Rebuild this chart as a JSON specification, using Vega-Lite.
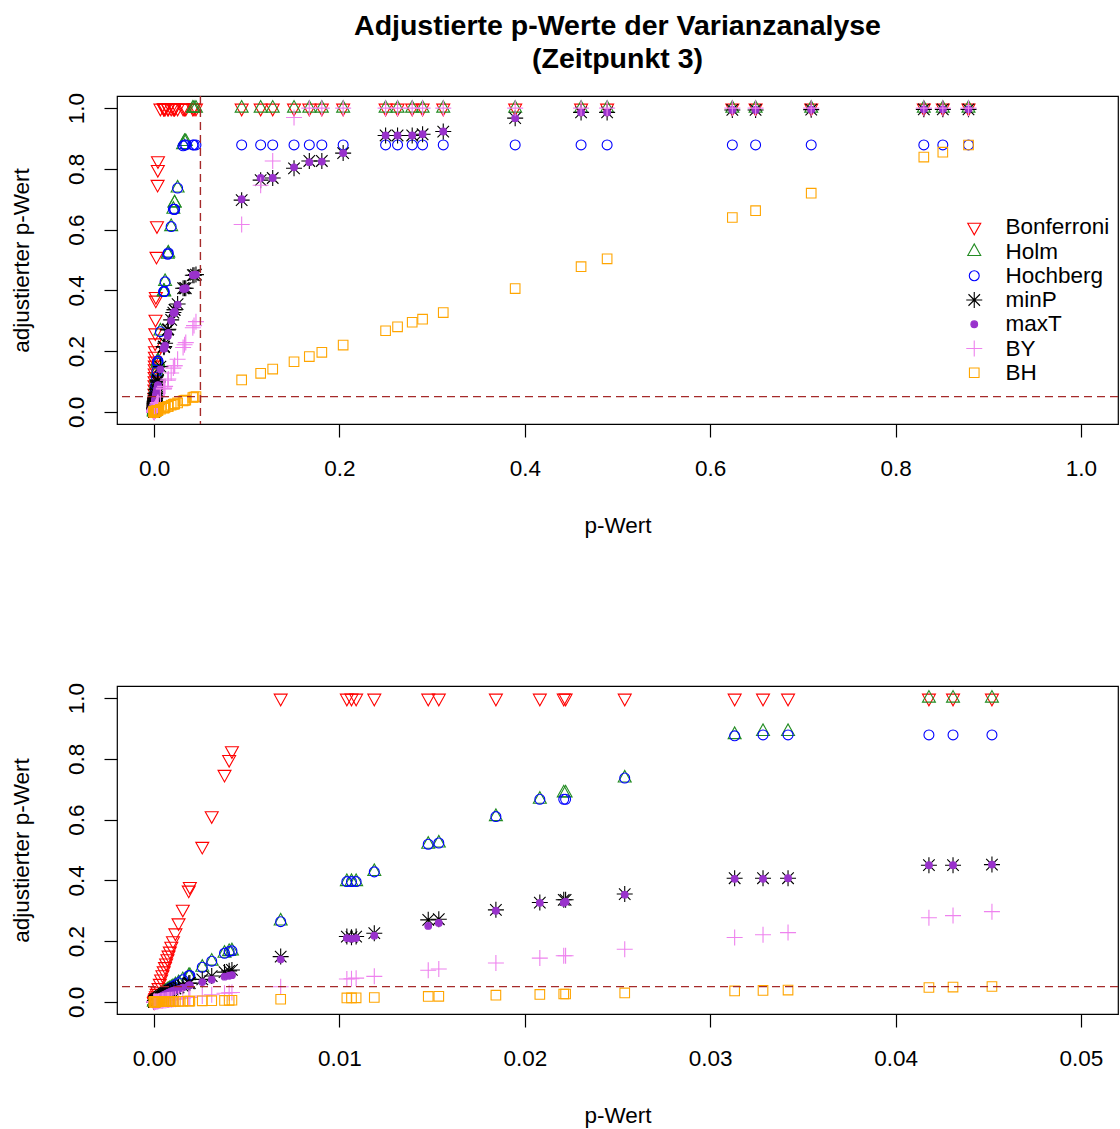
{
 "$schema": "https://vega.github.io/schema/vega-lite/v6.json",
 "autosize": {"type": "pad"},
 "padding": {"left": 9, "top": 11, "right": 2, "bottom": 5},
 "background": "white",
 "config": {
  "font": "Liberation Sans",
  "view": {"stroke": "#000", "strokeWidth": 1.2},
  "axis": {"domain": false, "grid": false, "tickColor": "#000", "tickSize": 13, "tickWidth": 1.2, "labelFontSize": 22.5, "labelColor": "#000", "titleFontSize": 22.5, "titleFontWeight": "normal", "titleColor": "#000", "labelFont": "Liberation Sans", "titleFont": "Liberation Sans", "labelFlush": false, "labelOverlap": false, "labelBound": false},
  "axisX": {"labelPadding": 38, "labelBaseline": "alphabetic", "titleY": 108, "titleBaseline": "alphabetic"},
  "axisY": {"labelAngle": 270, "labelAlign": "center", "labelBaseline": "alphabetic", "labelPadding": 21, "titleX": -89, "titleBaseline": "alphabetic", "titleAngle": 270}
 },
 "datasets": {
  "ord": [{"method": "Bonferroni", "o": 1}, {"method": "Holm", "o": 2}, {"method": "Hochberg", "o": 3}, {"method": "minP", "o": 4}, {"method": "maxT", "o": 5}, {"method": "BY", "o": 6}, {"method": "BH", "o": 7}],
  "pv": [
   {"p": 0.8787, "Bonferroni": 1, "Holm": 1, "Hochberg": 0.879, "minP": 0.996, "maxT": 0.996, "BY": 1, "BH": 0.8787},
   {"p": 0.851, "Bonferroni": 1, "Holm": 1, "Hochberg": 0.879, "minP": 0.996, "maxT": 0.996, "BY": 1, "BH": 0.855},
   {"p": 0.8305, "Bonferroni": 1, "Holm": 1, "Hochberg": 0.879, "minP": 0.996, "maxT": 0.996, "BY": 1, "BH": 0.839},
   {"p": 0.709, "Bonferroni": 1, "Holm": 1, "Hochberg": 0.879, "minP": 0.995, "maxT": 0.995, "BY": 1, "BH": 0.72},
   {"p": 0.649, "Bonferroni": 1, "Holm": 1, "Hochberg": 0.879, "minP": 0.994, "maxT": 0.994, "BY": 1, "BH": 0.6625},
   {"p": 0.6239, "Bonferroni": 1, "Holm": 1, "Hochberg": 0.879, "minP": 0.994, "maxT": 0.994, "BY": 1, "BH": 0.64},
   {"p": 0.4888, "Bonferroni": 1, "Holm": 1, "Hochberg": 0.879, "minP": 0.986, "maxT": 0.986, "BY": 1, "BH": 0.504},
   {"p": 0.4607, "Bonferroni": 1, "Holm": 1, "Hochberg": 0.879, "minP": 0.986, "maxT": 0.986, "BY": 1, "BH": 0.478},
   {"p": 0.3896, "Bonferroni": 1, "Holm": 1, "Hochberg": 0.879, "minP": 0.967, "maxT": 0.967, "BY": 1, "BH": 0.406},
   {"p": 0.312, "Bonferroni": 1, "Holm": 1, "Hochberg": 0.879, "minP": 0.923, "maxT": 0.923, "BY": 1, "BH": 0.327},
   {"p": 0.2897, "Bonferroni": 1, "Holm": 1, "Hochberg": 0.879, "minP": 0.914, "maxT": 0.914, "BY": 1, "BH": 0.305},
   {"p": 0.2785, "Bonferroni": 1, "Holm": 1, "Hochberg": 0.879, "minP": 0.91, "maxT": 0.91, "BY": 1, "BH": 0.295},
   {"p": 0.2627, "Bonferroni": 1, "Holm": 1, "Hochberg": 0.879, "minP": 0.91, "maxT": 0.91, "BY": 1, "BH": 0.28},
   {"p": 0.2498, "Bonferroni": 1, "Holm": 1, "Hochberg": 0.879, "minP": 0.91, "maxT": 0.91, "BY": 1, "BH": 0.267},
   {"p": 0.204, "Bonferroni": 1, "Holm": 1, "Hochberg": 0.879, "minP": 0.852, "maxT": 0.852, "BY": 1, "BH": 0.22},
   {"p": 0.181, "Bonferroni": 1, "Holm": 1, "Hochberg": 0.879, "minP": 0.826, "maxT": 0.824, "BY": 1, "BH": 0.196},
   {"p": 0.1675, "Bonferroni": 1, "Holm": 1, "Hochberg": 0.879, "minP": 0.826, "maxT": 0.822, "BY": 1, "BH": 0.182},
   {"p": 0.151, "Bonferroni": 1, "Holm": 1, "Hochberg": 0.879, "minP": 0.802, "maxT": 0.805, "BY": 0.969, "BH": 0.165},
   {"p": 0.128, "Bonferroni": 1, "Holm": 1, "Hochberg": 0.879, "minP": 0.77, "maxT": 0.77, "BY": 0.826, "BH": 0.141},
   {"p": 0.115, "Bonferroni": 1, "Holm": 1, "Hochberg": 0.879, "minP": 0.763, "maxT": 0.77, "BY": 0.746, "BH": 0.127},
   {"p": 0.0945, "Bonferroni": 1, "Holm": 1, "Hochberg": 0.879, "minP": 0.697, "maxT": 0.7, "BY": 0.617, "BH": 0.105},
   {"p": 0.0452, "Bonferroni": 1, "Holm": 1, "Hochberg": 0.879, "minP": 0.452, "maxT": 0.452, "BY": 0.297, "BH": 0.0506},
   {"p": 0.0431, "Bonferroni": 1, "Holm": 1, "Hochberg": 0.879, "minP": 0.45, "maxT": 0.45, "BY": 0.284, "BH": 0.0485},
   {"p": 0.0418, "Bonferroni": 1, "Holm": 1, "Hochberg": 0.879, "minP": 0.45, "maxT": 0.45, "BY": 0.277, "BH": 0.0473},
   {"p": 0.0342, "Bonferroni": 1, "Holm": 0.89, "Hochberg": 0.879, "minP": 0.407, "maxT": 0.407, "BY": 0.228, "BH": 0.0389},
   {"p": 0.03285, "Bonferroni": 1, "Holm": 0.89, "Hochberg": 0.879, "minP": 0.407, "maxT": 0.405, "BY": 0.221, "BH": 0.0376},
   {"p": 0.03132, "Bonferroni": 1, "Holm": 0.88, "Hochberg": 0.876, "minP": 0.407, "maxT": 0.405, "BY": 0.212, "BH": 0.0361},
   {"p": 0.02539, "Bonferroni": 1, "Holm": 0.737, "Hochberg": 0.737, "minP": 0.355, "maxT": 0.353, "BY": 0.173, "BH": 0.0294},
   {"p": 0.0222, "Bonferroni": 1, "Holm": 0.688, "Hochberg": 0.667, "minP": 0.336, "maxT": 0.33, "BY": 0.152, "BH": 0.0259},
   {"p": 0.0221, "Bonferroni": 1, "Holm": 0.688, "Hochberg": 0.667, "minP": 0.336, "maxT": 0.326, "BY": 0.152, "BH": 0.0259},
   {"p": 0.02081, "Bonferroni": 1, "Holm": 0.667, "Hochberg": 0.667, "minP": 0.327, "maxT": 0.326, "BY": 0.144, "BH": 0.0246},
   {"p": 0.01844, "Bonferroni": 1, "Holm": 0.61, "Hochberg": 0.61, "minP": 0.303, "maxT": 0.3, "BY": 0.128, "BH": 0.0219},
   {"p": 0.01536, "Bonferroni": 1, "Holm": 0.523, "Hochberg": 0.523, "minP": 0.272, "maxT": 0.26, "BY": 0.108, "BH": 0.0183},
   {"p": 0.01479, "Bonferroni": 1, "Holm": 0.519, "Hochberg": 0.519, "minP": 0.27, "maxT": 0.25, "BY": 0.104, "BH": 0.0178},
   {"p": 0.01188, "Bonferroni": 1, "Holm": 0.429, "Hochberg": 0.428, "minP": 0.226, "maxT": 0.218, "BY": 0.084, "BH": 0.0144},
   {"p": 0.0109, "Bonferroni": 1, "Holm": 0.396, "Hochberg": 0.396, "minP": 0.215, "maxT": 0.21, "BY": 0.078, "BH": 0.0133},
   {"p": 0.01065, "Bonferroni": 1, "Holm": 0.396, "Hochberg": 0.396, "minP": 0.213, "maxT": 0.208, "BY": 0.076, "BH": 0.013},
   {"p": 0.0104, "Bonferroni": 1, "Holm": 0.396, "Hochberg": 0.396, "minP": 0.215, "maxT": 0.21, "BY": 0.075, "BH": 0.0128},
   {"p": 0.00683, "Bonferroni": 1, "Holm": 0.266, "Hochberg": 0.264, "minP": 0.149, "maxT": 0.14, "BY": 0.0496, "BH": 0.0085},
   {"p": 0.0042, "Bonferroni": 0.827, "Holm": 0.168, "Hochberg": 0.168, "minP": 0.105, "maxT": 0.088, "BY": 0.0307, "BH": 0.00524},
   {"p": 0.00405, "Bonferroni": 0.798, "Holm": 0.166, "Hochberg": 0.166, "minP": 0.102, "maxT": 0.086, "BY": 0.0298, "BH": 0.00508},
   {"p": 0.0038, "Bonferroni": 0.749, "Holm": 0.16, "Hochberg": 0.16, "minP": 0.098, "maxT": 0.083, "BY": 0.0281, "BH": 0.0048},
   {"p": 0.00311, "Bonferroni": 0.613, "Holm": 0.134, "Hochberg": 0.134, "minP": 0.085, "maxT": 0.073, "BY": 0.0232, "BH": 0.00395},
   {"p": 0.0026, "Bonferroni": 0.512, "Holm": 0.114, "Hochberg": 0.114, "minP": 0.074, "maxT": 0.065, "BY": 0.0195, "BH": 0.00333},
   {"p": 0.00193, "Bonferroni": 0.38, "Holm": 0.087, "Hochberg": 0.087, "minP": 0.062, "maxT": 0.055, "BY": 0.0146, "BH": 0.00249},
   {"p": 0.00187, "Bonferroni": 0.368, "Holm": 0.086, "Hochberg": 0.086, "minP": 0.061, "maxT": 0.054, "BY": 0.0142, "BH": 0.00242},
   {"p": 0.00155, "Bonferroni": 0.305, "Holm": 0.073, "Hochberg": 0.073, "minP": 0.053, "maxT": 0.047, "BY": 0.0119, "BH": 0.00202},
   {"p": 0.00132, "Bonferroni": 0.26, "Holm": 0.063, "Hochberg": 0.063, "minP": 0.048, "maxT": 0.042, "BY": 0.0102, "BH": 0.00173},
   {"p": 0.00115, "Bonferroni": 0.227, "Holm": 0.056, "Hochberg": 0.056, "minP": 0.044, "maxT": 0.039, "BY": 0.0089, "BH": 0.00152},
   {"p": 0.00102, "Bonferroni": 0.201, "Holm": 0.051, "Hochberg": 0.051, "minP": 0.04, "maxT": 0.036, "BY": 0.008, "BH": 0.00136},
   {"p": 0.00093, "Bonferroni": 0.183, "Holm": 0.047, "Hochberg": 0.047, "minP": 0.038, "maxT": 0.034, "BY": 0.0073, "BH": 0.00125},
   {"p": 0.00085, "Bonferroni": 0.167, "Holm": 0.044, "Hochberg": 0.044, "minP": 0.036, "maxT": 0.032, "BY": 0.0067, "BH": 0.00115},
   {"p": 0.00078, "Bonferroni": 0.154, "Holm": 0.041, "Hochberg": 0.041, "minP": 0.034, "maxT": 0.03, "BY": 0.0062, "BH": 0.00106},
   {"p": 0.00072, "Bonferroni": 0.142, "Holm": 0.039, "Hochberg": 0.039, "minP": 0.032, "maxT": 0.028, "BY": 0.0058, "BH": 0.00099},
   {"p": 0.00065, "Bonferroni": 0.128, "Holm": 0.036, "Hochberg": 0.036, "minP": 0.03, "maxT": 0.026, "BY": 0.0053, "BH": 0.0009},
   {"p": 0.00059, "Bonferroni": 0.116, "Holm": 0.033, "Hochberg": 0.033, "minP": 0.028, "maxT": 0.024, "BY": 0.0048, "BH": 0.00082},
   {"p": 0.00052, "Bonferroni": 0.102, "Holm": 0.03, "Hochberg": 0.03, "minP": 0.026, "maxT": 0.022, "BY": 0.0043, "BH": 0.00073},
   {"p": 0.00045, "Bonferroni": 0.089, "Holm": 0.026, "Hochberg": 0.026, "minP": 0.023, "maxT": 0.02, "BY": 0.0037, "BH": 0.00063},
   {"p": 0.00038, "Bonferroni": 0.075, "Holm": 0.022, "Hochberg": 0.022, "minP": 0.02, "maxT": 0.017, "BY": 0.0032, "BH": 0.00054},
   {"p": 0.00031, "Bonferroni": 0.061, "Holm": 0.019, "Hochberg": 0.019, "minP": 0.017, "maxT": 0.014, "BY": 0.0026, "BH": 0.00044},
   {"p": 0.00024, "Bonferroni": 0.047, "Holm": 0.015, "Hochberg": 0.015, "minP": 0.014, "maxT": 0.012, "BY": 0.002, "BH": 0.00035},
   {"p": 0.00018, "Bonferroni": 0.035, "Holm": 0.011, "Hochberg": 0.011, "minP": 0.011, "maxT": 0.009, "BY": 0.0015, "BH": 0.00026},
   {"p": 0.00014, "Bonferroni": 0.028, "Holm": 0.0095, "Hochberg": 0.0095, "minP": 0.009, "maxT": 0.007, "BY": 0.0012, "BH": 0.00021},
   {"p": 0.0001, "Bonferroni": 0.02, "Holm": 0.0078, "Hochberg": 0.0078, "minP": 0.007, "maxT": 0.005, "BY": 0.001, "BH": 0.00016},
   {"p": 0.00007, "Bonferroni": 0.014, "Holm": 0.0062, "Hochberg": 0.0062, "minP": 0.005, "maxT": 0.004, "BY": 0.0007, "BH": 0.00013},
   {"p": 0.00005, "Bonferroni": 0.01, "Holm": 0.0049, "Hochberg": 0.0049, "minP": 0.004, "maxT": 0.003, "BY": 0.0006, "BH": 0.0001},
   {"p": 0.00003, "Bonferroni": 0.006, "Holm": 0.0032, "Hochberg": 0.0032, "minP": 0.002, "maxT": 0.002, "BY": 0.0004, "BH": 0.00007},
   {"p": 0.00002, "Bonferroni": 0.004, "Holm": 0.0024, "Hochberg": 0.0024, "minP": 0.001, "maxT": 0.001, "BY": 0.0003, "BH": 0.00005},
   {"p": 0.00001, "Bonferroni": 0.002, "Holm": 0.0014, "Hochberg": 0.0014, "minP": 0.001, "maxT": 0.001, "BY": 0.0002, "BH": 0.00003},
   {"p": 0.000005, "Bonferroni": 0.001, "Holm": 0.0008, "Hochberg": 0.0008, "minP": 0, "maxT": 0, "BY": 0.0001, "BH": 0.00002},
   {"p": 0.000001, "Bonferroni": 0.0002, "Holm": 0.0002, "Hochberg": 0.0002, "minP": 0, "maxT": 0, "BY": 0.0001, "BH": 0.00001},
   {"p": 0, "Bonferroni": 0, "Holm": 0, "Hochberg": 0, "minP": 0, "maxT": 0, "BY": 0, "BH": 0}
  ]
 },
 "spacing": 143,
 "vconcat": [
  {
   "title": {"text": ["Adjustierte p-Werte der Varianzanalyse", "(Zeitpunkt 3)"], "fontSize": 28.5, "fontWeight": "bold", "font": "Liberation Sans", "lineHeight": 33, "anchor": "middle", "offset": 19, "color": "#000"},
   "width": 1001,
   "height": 328,
   "layer": [
    {
     "data": {"name": "pv"},
     "transform": [
      {"fold": ["Bonferroni", "Holm", "Hochberg", "minP", "maxT", "BY", "BH"], "as": ["method", "adj"]},
      {"lookup": "method", "from": {"data": {"name": "ord"}, "key": "method", "fields": ["o"]}}
     ],
     "mark": {"type": "point", "strokeWidth": 1.1, "size": 256, "opacity": 1},
     "encoding": {
      "x": {"field": "p", "type": "quantitative", "title": "p-Wert", "scale": {"domain": [-0.04, 1.04], "nice": false, "zero": false}, "axis": {"values": [0, 0.2, 0.4, 0.6, 0.8, 1], "format": ".1f"}},
      "y": {"field": "adj", "type": "quantitative", "title": "adjustierter p-Wert", "scale": {"domain": [-0.04, 1.04], "nice": false, "zero": false}, "axis": {"values": [0, 0.2, 0.4, 0.6, 0.8, 1], "format": ".1f"}},
      "shape": {"field": "method", "type": "nominal", "scale": {"domain": ["Bonferroni", "Holm", "Hochberg", "minP", "maxT", "BY", "BH"], "range": ["M-0.81,-0.5L0.81,-0.5L0,0.95Z", "M-0.81,0.5L0.81,0.5L0,-0.95Z", "M0.62,0A0.62,0.62,0,1,1,-0.62,0A0.62,0.62,0,1,1,0.62,0Z", "M-1,0L1,0M0,-1L0,1M-0.72,-0.72L0.72,0.72M-0.72,0.72L0.72,-0.72", "M0.42,0A0.42,0.42,0,1,1,-0.42,0A0.42,0.42,0,1,1,0.42,0Z", "M-1,0L1,0M0,-1L0,1", "M-0.6,-0.6L0.6,-0.6L0.6,0.6L-0.6,0.6Z"]},
       "legend": {"title": null, "orient": "none", "legendX": 846, "legendY": 120, "padding": 0, "labelFontSize": 22.5, "labelColor": "#000", "labelFont": "Liberation Sans", "symbolSize": 256, "symbolStrokeWidth": 1.1, "labelOffset": 20, "rowPadding": 1.25, "labelLimit": 300}},
      "stroke": {"field": "method", "type": "nominal", "scale": {"domain": ["Bonferroni", "Holm", "Hochberg", "minP", "maxT", "BY", "BH"], "range": ["#FF0000", "#228B22", "#0000FF", "#000000", "#9932CC", "#EE82EE", "#FFA500"]},
       "legend": {"title": null, "orient": "none", "legendX": 846, "legendY": 120, "padding": 0, "labelFontSize": 22.5, "labelColor": "#000", "labelFont": "Liberation Sans", "symbolSize": 256, "symbolStrokeWidth": 1.1, "labelOffset": 20, "rowPadding": 1.25, "labelLimit": 300}},
      "fill": {"field": "method", "type": "nominal", "scale": {"domain": ["Bonferroni", "Holm", "Hochberg", "minP", "maxT", "BY", "BH"], "range": ["transparent", "transparent", "transparent", "transparent", "#9932CC", "transparent", "transparent"]},
       "legend": {"title": null, "orient": "none", "legendX": 846, "legendY": 120, "padding": 0, "labelFontSize": 22.5, "labelColor": "#000", "labelFont": "Liberation Sans", "symbolSize": 256, "symbolStrokeWidth": 1.1, "labelOffset": 20, "rowPadding": 1.25, "labelLimit": 300}},
      "order": {"field": "o", "type": "quantitative"}
     }
    },
    {
     "data": {"values": [{}]},
     "mark": {"type": "rule", "color": "#A52A2A", "strokeDash": [8, 5], "strokeWidth": 1.4},
     "encoding": {"y": {"datum": 0.05}}
    },
    {
     "data": {"values": [{}]},
     "mark": {"type": "rule", "color": "#A52A2A", "strokeDash": [8, 5], "strokeWidth": 1.4},
     "encoding": {"x": {"datum": 0.05}}
    }
   ]
  },
  {
   "width": 1001,
   "height": 328,
   "layer": [
    {
     "data": {"name": "pv"},
     "transform": [
      {"fold": ["Bonferroni", "Holm", "Hochberg", "minP", "maxT", "BY", "BH"], "as": ["method", "adj"]},
      {"lookup": "method", "from": {"data": {"name": "ord"}, "key": "method", "fields": ["o"]}}
     ],
     "mark": {"type": "point", "strokeWidth": 1.1, "size": 256, "opacity": 1, "clip": true},
     "encoding": {
      "x": {"field": "p", "type": "quantitative", "title": "p-Wert", "scale": {"domain": [-0.002, 0.052], "nice": false, "zero": false}, "axis": {"values": [0, 0.01, 0.02, 0.03, 0.04, 0.05], "format": ".2f"}},
      "y": {"field": "adj", "type": "quantitative", "title": "adjustierter p-Wert", "scale": {"domain": [-0.04, 1.04], "nice": false, "zero": false}, "axis": {"values": [0, 0.2, 0.4, 0.6, 0.8, 1], "format": ".1f"}},
      "shape": {"field": "method", "type": "nominal", "scale": {"domain": ["Bonferroni", "Holm", "Hochberg", "minP", "maxT", "BY", "BH"], "range": ["M-0.81,-0.5L0.81,-0.5L0,0.95Z", "M-0.81,0.5L0.81,0.5L0,-0.95Z", "M0.62,0A0.62,0.62,0,1,1,-0.62,0A0.62,0.62,0,1,1,0.62,0Z", "M-1,0L1,0M0,-1L0,1M-0.72,-0.72L0.72,0.72M-0.72,0.72L0.72,-0.72", "M0.42,0A0.42,0.42,0,1,1,-0.42,0A0.42,0.42,0,1,1,0.42,0Z", "M-1,0L1,0M0,-1L0,1", "M-0.6,-0.6L0.6,-0.6L0.6,0.6L-0.6,0.6Z"]}, "legend": null},
      "stroke": {"field": "method", "type": "nominal", "scale": {"domain": ["Bonferroni", "Holm", "Hochberg", "minP", "maxT", "BY", "BH"], "range": ["#FF0000", "#228B22", "#0000FF", "#000000", "#9932CC", "#EE82EE", "#FFA500"]}, "legend": null},
      "fill": {"field": "method", "type": "nominal", "scale": {"domain": ["Bonferroni", "Holm", "Hochberg", "minP", "maxT", "BY", "BH"], "range": ["transparent", "transparent", "transparent", "transparent", "#9932CC", "transparent", "transparent"]}, "legend": null},
      "order": {"field": "o", "type": "quantitative"}
     }
    },
    {
     "data": {"values": [{}]},
     "mark": {"type": "rule", "color": "#A52A2A", "strokeDash": [8, 5], "strokeWidth": 1.4},
     "encoding": {"y": {"datum": 0.05}}
    }
   ]
  }
 ],
 "resolve": {
  "scale": {"x": "independent", "y": "independent", "shape": "independent", "stroke": "independent", "fill": "independent"},
  "legend": {"shape": "independent", "stroke": "independent", "fill": "independent"}
 }
}
